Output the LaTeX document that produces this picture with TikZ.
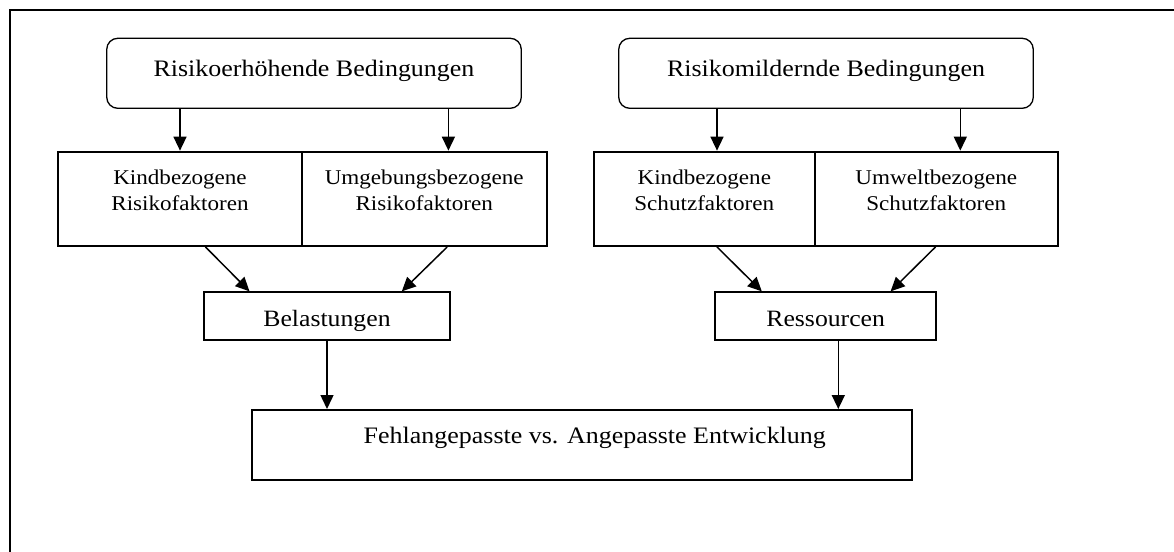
\documentclass[tikz,border=0pt]{standalone}
\usepackage{fontspec}
\setmainfont[FakeStretch=1.1]{Liberation Serif}
\usetikzlibrary{arrows.meta}

\begin{document}
\begin{tikzpicture}[x=1pt, y=-1pt,
        rbox/.style={draw, line width=1.3pt, rounded corners=11pt, inner sep=0pt,
            minimum width=414.5, minimum height=70, text height=16pt, text depth=10.5pt,
            font=\fontsize{23.6}{28}\selectfont},
        fbox/.style={draw, line width=2pt, inner sep=0pt, align=center},
        fakt/.style={fbox, minimum height=94.3, text depth=16.6pt,
            font=\fontsize{21}{26.4}\selectfont},
        arr/.style={-{Triangle[width=13pt,length=14pt]}, line width=1.5pt}]
            \useasboundingbox (0, 0) rectangle (1174, 551);
            \clip (0, 0) rectangle (1174, 551);
            \draw[line width=2pt] (10, 10) rectangle (1190, 570);

            % Bedingungen
            \node[rbox] (risk) at (314, 73.3) {Risikoerhöhende Bedingungen};
            \node[rbox] (mild) at (826, 73.3) {Risikomildernde Bedingungen};

            % Faktoren
            \node[fakt, minimum width=243.4] (kindR) at (180, 198.8) {Kindbezogene\\Risikofaktoren};
            \node[fakt, minimum width=245] (umgR) at (424.2, 198.8) {Umgebungsbezogene\\Risikofaktoren};
            \node[fakt, minimum width=220.5] (kindS) at (704.3, 198.8) {Kindbezogene\\Schutzfaktoren};
            \node[fakt, minimum width=243.5] (umwS) at (936.3, 198.8) {Umweltbezogene\\Schutzfaktoren};

            \node[fbox, minimum width=245.7, minimum height=47.7, text height=26pt, text depth=5pt,
                font=\fontsize{23.4}{28}\selectfont] (bel) at (327, 316.2) {Belastungen};
            \node[fbox, minimum width=220.7, minimum height=47.7, text height=26pt, text depth=5pt,
                font=\fontsize{23.4}{28}\selectfont] (res) at (825.7, 316.2) {Ressourcen};

            \node[fbox, minimum width=659.7, minimum height=70, text depth=19.5pt,
                font=\fontsize{23.6}{28}\selectfont] (dev) at (582.3, 445) {\hspace*{25pt}Fehlangepasste vs. Angepasste Entwicklung};

            \draw[arr] (risk.south -| kindR) -- (kindR.north);
            \draw[arr] ([xshift=24.2pt]umgR.north |- risk.south) -- ([xshift=24.2pt]umgR.north);
            \draw[arr] ([xshift=12.7pt]kindS.north |- mild.south) -- ([xshift=12.7pt]kindS.north);
            \draw[arr] ([xshift=24pt]umwS.north |- mild.south) -- ([xshift=24pt]umwS.north);

            \draw[arr] ([xshift=25.5pt]kindR.south) -- ([xshift=-77.5pt]bel.north);
            \draw[arr] ([xshift=23pt]umgR.south) -- ([xshift=74.8pt]bel.north);
            \draw[arr] ([xshift=12.7pt]kindS.south) -- ([xshift=-63.9pt]res.north);
            \draw[arr] ([xshift=-0.8pt]umwS.south) -- ([xshift=64.9pt]res.north);

            \draw[arr] (bel.south) -- (bel.south |- dev.north);
            \draw[arr] ([xshift=12.6pt]res.south) -- ([xshift=12.6pt]res.south |- dev.north);
        \end{tikzpicture}
\end{document}
